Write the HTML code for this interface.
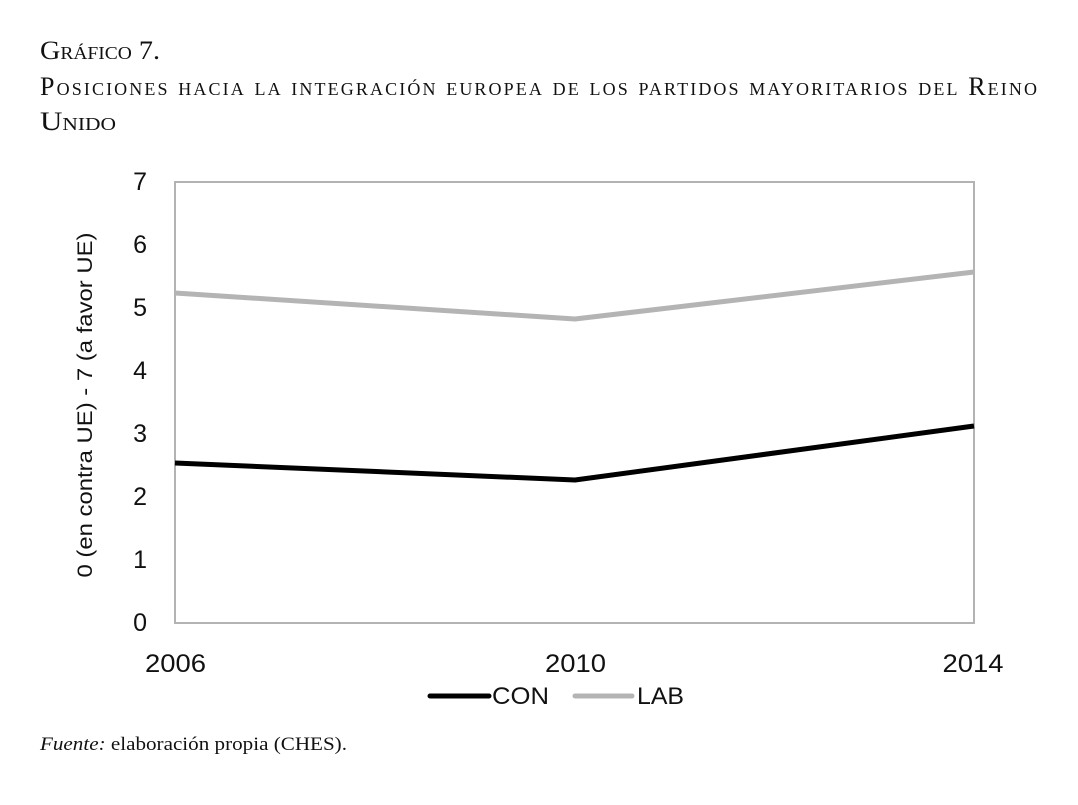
<!DOCTYPE html>
<html>
<head>
<meta charset="utf-8">
<style>
  html, body { margin:0; padding:0; background:#fff; }
  svg { display:block; }
  .serif { font-family: "Liberation Serif", serif; }
  .sans { font-family: "Liberation Sans", "DejaVu Sans", sans-serif; }
  .sc { font-variant: small-caps; }
</style>
</head>
<body>
<svg width="1078" height="805" viewBox="0 0 1078 805" xmlns="http://www.w3.org/2000/svg">
  <rect width="1078" height="805" fill="#fff"/>
  <!-- Title -->
  <text class="serif sc" x="40" y="59" font-size="26" fill="#111" textLength="120" lengthAdjust="spacingAndGlyphs">Gráfico 7.</text>
  <text class="serif sc" x="40" y="95" font-size="26" fill="#111" textLength="997" lengthAdjust="spacing">Posiciones hacia la integración europea de los partidos mayoritarios del Reino</text>
  <text class="serif sc" x="40" y="130" font-size="26" fill="#111" textLength="76" lengthAdjust="spacingAndGlyphs">Unido</text>

  <!-- Plot box -->
  <rect x="175" y="182" width="799" height="441" fill="none" stroke="#b3b3b3" stroke-width="2"/>

  <!-- Y tick labels -->
  <g class="sans" font-size="25" fill="#111" text-anchor="end">
    <text x="147" y="190">7</text>
    <text x="147" y="253">6</text>
    <text x="147" y="316">5</text>
    <text x="147" y="379">4</text>
    <text x="147" y="442">3</text>
    <text x="147" y="505">2</text>
    <text x="147" y="568">1</text>
    <text x="147" y="631">0</text>
  </g>

  <!-- Y axis title -->
  <text class="sans" font-size="21" fill="#111" text-anchor="middle" transform="translate(92,405) rotate(-90)" textLength="345" lengthAdjust="spacingAndGlyphs">0 (en contra UE) - 7 (a favor UE)</text>

  <!-- X tick labels -->
  <g class="sans" font-size="25" fill="#111" text-anchor="middle">
    <text x="175.5" y="672" textLength="61" lengthAdjust="spacingAndGlyphs">2006</text>
    <text x="575.5" y="672" textLength="61" lengthAdjust="spacingAndGlyphs">2010</text>
    <text x="973" y="672" textLength="61" lengthAdjust="spacingAndGlyphs">2014</text>
  </g>

  <!-- Series -->
  <polyline points="175,293 575,319 974,272" fill="none" stroke="#b4b4b4" stroke-width="5" stroke-linejoin="round"/>
  <polyline points="175,463 575,480 974,426" fill="none" stroke="#000" stroke-width="5" stroke-linejoin="round"/>

  <!-- Legend -->
  <line x1="430" y1="696" x2="489" y2="696" stroke="#000" stroke-width="5" stroke-linecap="round"/>
  <text class="sans" x="492" y="704" font-size="24" fill="#111" textLength="57" lengthAdjust="spacingAndGlyphs">CON</text>
  <line x1="575" y1="696" x2="632" y2="696" stroke="#b4b4b4" stroke-width="5" stroke-linecap="round"/>
  <text class="sans" x="637" y="704" font-size="24" fill="#111" textLength="47" lengthAdjust="spacingAndGlyphs">LAB</text>

  <!-- Footer -->
  <text class="serif" x="40" y="750" font-size="19" fill="#111" textLength="307" lengthAdjust="spacingAndGlyphs"><tspan font-style="italic">Fuente:</tspan> elaboración propia (CHES).</text>
</svg>
</body>
</html>
